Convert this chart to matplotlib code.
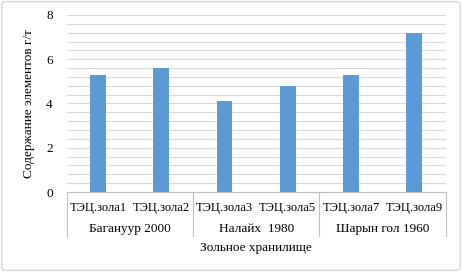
import numpy as np
import matplotlib.pyplot as plt
from matplotlib.patches import FancyBboxPatch
from matplotlib.ticker import MultipleLocator

# data
labels = ["ТЭЦ.зола1", "ТЭЦ.зола2", "ТЭЦ.зола3", "ТЭЦ.зола5", "ТЭЦ.зола7", "ТЭЦ.зола9"]
values = [5.3, 5.6, 4.1, 4.8, 5.3, 7.2]
groups = ["Багануур 2000", "Налайх  1980", "Шарын гол 1960"]
group_size = [2, 2, 2]

plt.rcParams['font.family'] = ['Liberation Serif', 'DejaVu Serif']
fs = 9.5

fig = plt.figure(figsize=(4.62, 2.72), dpi=100)
ax = fig.add_axes([0.144, 0.294, 0.821, 0.651])

x = np.arange(len(values))
ax.bar(x, values, width=0.25, color="#5b9bd5", zorder=3)

ax.set_xlim(-0.5, len(values) - 0.5)
ax.set_ylim(0, 8)
ax.yaxis.set_major_locator(MultipleLocator(2))
ax.yaxis.set_minor_locator(MultipleLocator(0.4))
ax.grid(axis="y", which="both", color="#d9d9d9", linewidth=0.8, zorder=0)
ax.tick_params(axis="y", which="both", length=0, labelsize=fs, pad=10)
ax.set_xticks(x)
ax.set_xticklabels(labels, fontsize=9)
ax.tick_params(axis="x", length=0, pad=7)

for s in ["top", "right", "left"]:
    ax.spines[s].set_visible(False)
ax.spines["bottom"].set_color("#bfbfbf")

tr = ax.get_xaxis_transform()
# group separators and labels
start = -0.5
for g, n in zip(groups, group_size):
    ax.plot([start, start], [0, -0.25], color="#bfbfbf", lw=0.8, transform=tr, clip_on=False)
    ax.text(start + n / 2, -0.21, g, ha="center", va="center", fontsize=fs, transform=tr)
    start += n
ax.plot([start, start], [0, -0.25], color="#bfbfbf", lw=0.8, transform=tr, clip_on=False)

ax.set_xlabel("Зольное хранилище", fontsize=fs, labelpad=20)
ax.set_ylabel("Содержание элементов г/т", fontsize=fs, labelpad=8)

fig.patches.append(FancyBboxPatch((0.004, 0.006), 0.992, 0.988, boxstyle="round,pad=0,rounding_size=0.01",
                                  transform=fig.transFigure, fill=False, edgecolor="#d9d9d9", lw=1))

fig.savefig("out.png", dpi=100)
